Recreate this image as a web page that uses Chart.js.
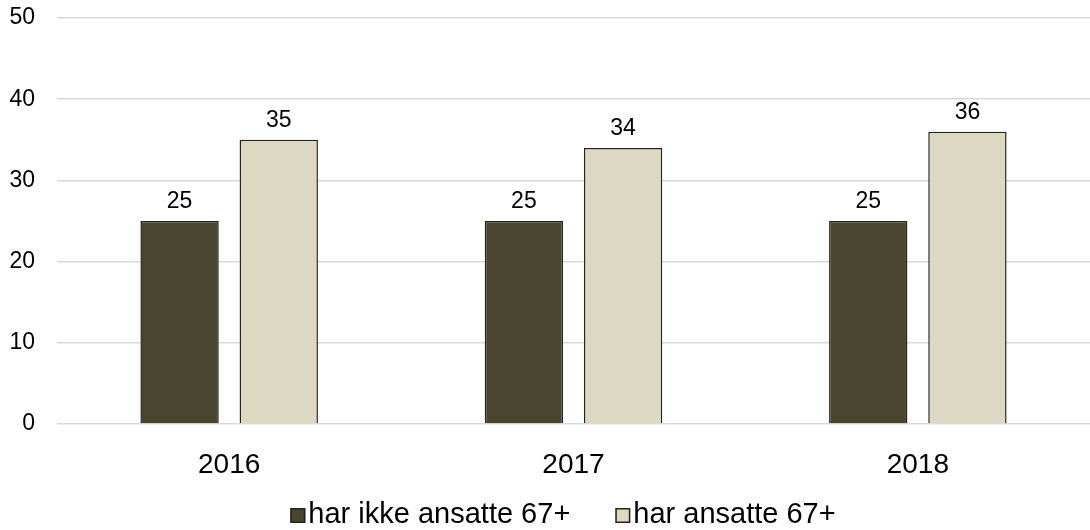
<!DOCTYPE html>
<html>
<head>
<meta charset="utf-8">
<script src="https://cdn.jsdelivr.net/npm/chart.js@4"></script>
<style>
  body { margin: 0; background: #fff; }
  #wrap { width: 1090px; height: 530px; }
</style>
</head>
<body>
<div id="wrap"><canvas id="chart"></canvas></div>
<script>
const years = ['2016', '2017', '2018'];
const utenSenior = [25, 25, 25];
const medSenior = [35, 34, 36];
const seriesNames = ['har ikke ansatte 67+', 'har ansatte 67+'];

const FONT = '"Liberation Sans", Arial, sans-serif';

// draw the value above each bar
const valueLabels = {
    id: 'valueLabels',
    afterDatasetsDraw(chart) {
        const ctx = chart.ctx;
        ctx.save();
        ctx.font = '23px ' + FONT;
        ctx.fillStyle = '#000';
        ctx.textAlign = 'center';
        ctx.textBaseline = 'alphabetic';
        chart.data.datasets.forEach((ds, i) => {
            chart.getDatasetMeta(i).data.forEach((bar, j) => {
                ctx.fillText(ds.data[j], bar.x, bar.y - 13);
            });
        });
        ctx.restore();
    }
};

// legend drawn by hand so the box sits tight against its text
const bottomLegend = {
    id: 'bottomLegend',
    afterDraw(chart) {
        const ctx = chart.ctx;
        ctx.save();
        ctx.font = '29px ' + FONT;
        const box = 15, gap = 3, itemGap = 45;
        const items = chart.data.datasets.map(ds => ({
            text: ds.label,
            fill: ds.backgroundColor,
            stroke: ds.borderColor,
            w: box + gap + ctx.measureText(ds.label).width
        }));
        const total = items.reduce((s, it) => s + it.w, 0) + itemGap * (items.length - 1);
        let x = 563 - total / 2;
        const base = 523;
        items.forEach(it => {
            ctx.fillStyle = it.fill;
            ctx.fillRect(x, base - box, box, box);
            ctx.strokeStyle = it.stroke;
            ctx.lineWidth = 1.5;
            ctx.strokeRect(x + 0.75, base - box + 0.75, box - 1.5, box - 1.5);
            ctx.fillStyle = '#000';
            ctx.textBaseline = 'alphabetic';
            ctx.textAlign = 'left';
            ctx.fillText(it.text, x + box + gap, base);
            x += it.w + itemGap;
        });
        ctx.restore();
    }
};

const ctx = document.getElementById('chart').getContext('2d');
new Chart(ctx, {
    type: 'bar',
    data: {
        labels: years,
        datasets: [
            {
                label: seriesNames[0],
                data: utenSenior,
                backgroundColor: '#4a452f',
                borderColor: '#26241a',
                borderWidth: 1.5,
                categoryPercentage: 0.576,
                barPercentage: 0.79
            },
            {
                label: seriesNames[1],
                data: medSenior,
                backgroundColor: '#ddd8c2',
                borderColor: '#26241a',
                borderWidth: 1.5,
                categoryPercentage: 0.576,
                barPercentage: 0.79
            }
        ]
    },
    options: {
        responsive: true,
        maintainAspectRatio: false,
        animation: false,
        layout: { padding: { top: 0, right: 0, left: 0, bottom: 40 } },
        plugins: {
            legend: { display: false },
            tooltip: { enabled: false }
        },
        scales: {
            x: {
                grid: { display: false },
                border: { display: false },
                ticks: {
                    font: { family: FONT, size: 28 },
                    color: '#000',
                    padding: 16
                },
                afterFit(scale) { scale.height = 66; }
            },
            y: {
                min: 0,
                max: 50,
                ticks: {
                    stepSize: 10,
                    font: { family: FONT, size: 23 },
                    color: '#000',
                    padding: 22
                },
                grid: { color: '#d9d9d9', lineWidth: 1.5, drawTicks: false },
                border: { display: false },
                afterFit(scale) {
                    scale.width = 57;
                    scale.paddingTop = 18;
                    scale.paddingBottom = 0;
                }
            }
        }
    },
    plugins: [valueLabels, bottomLegend]
});
</script>
</body>
</html>
